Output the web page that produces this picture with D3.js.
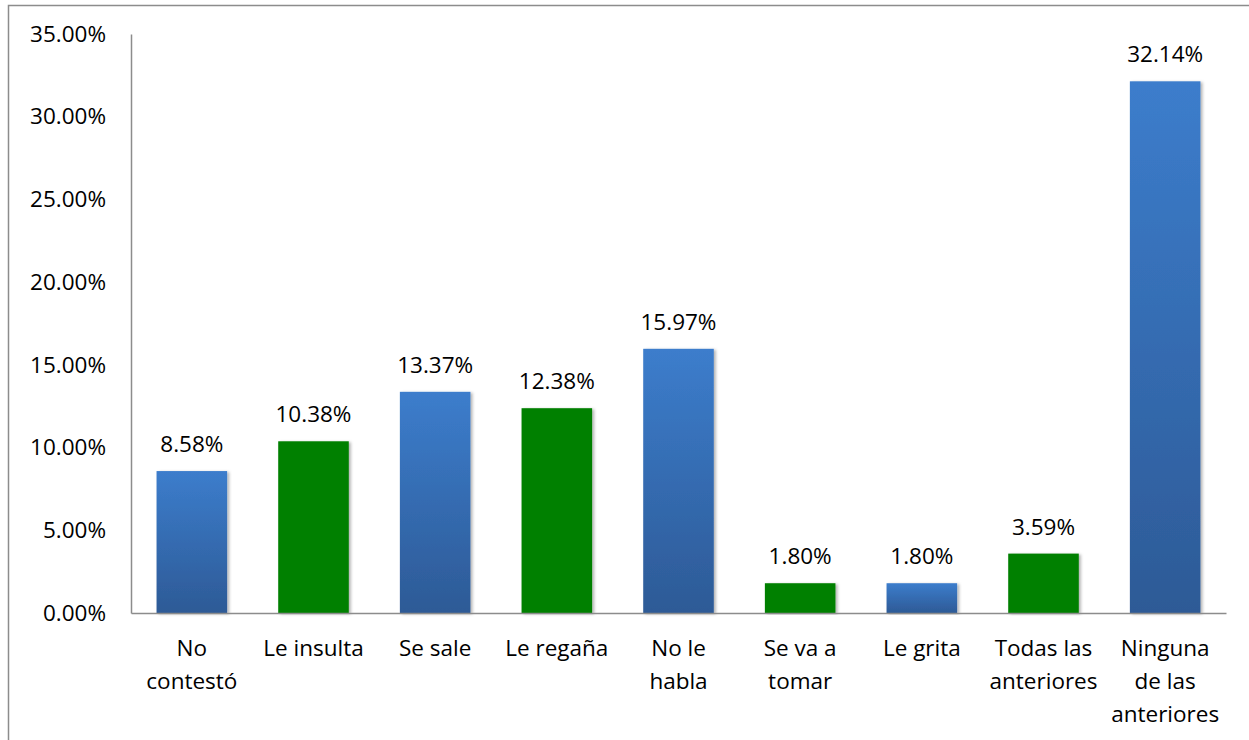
<!DOCTYPE html>
<html>
<head>
<meta charset="utf-8">
<script src="https://cdn.jsdelivr.net/npm/d3@7"></script>
<style>
  body { margin: 0; background: #fff; }
  svg { display: block; font-family: "Open Sans", Lato, sans-serif; }
</style>
</head>
<body>
<svg id="vis" width="1249" height="740"></svg>
<script>
// data
const categories = ["No\ncontestó", "Le insulta", "Se sale", "Le regaña", "No le\nhabla",
                    "Se va a\ntomar", "Le grita", "Todas las\nanteriores", "Ninguna\nde las\nanteriores"];
const values = [8.58, 10.38, 13.37, 12.38, 15.97, 1.80, 1.80, 3.59, 32.14];
const barColors = ["blue", "green", "blue", "green", "blue", "green", "blue", "green", "blue"];
const yTicks = [0, 5, 10, 15, 20, 25, 30, 35];

const svg = d3.select("#vis");
const width = 1249, height = 740;
const margin = {left: 131, right: 23, top: 34, bottom: 127};
const fontSize = "22.5px";

// outer chart border (runs off the right/bottom edge like the original)
svg.append("rect")
  .attr("x", 8.5).attr("y", 5.5)
  .attr("width", 1260).attr("height", 760)
  .attr("fill", "none")
  .attr("stroke", "#8c8c8c")
  .attr("stroke-width", 1.5);

const defs = svg.append("defs");
const grad = defs.append("linearGradient")
  .attr("id", "blueGrad")
  .attr("x1", 0).attr("y1", 0).attr("x2", 0).attr("y2", 1);
grad.append("stop").attr("offset", "0%").attr("stop-color", "#3c7dcc");
grad.append("stop").attr("offset", "100%").attr("stop-color", "#2d5a96");

const shadow = defs.append("filter").attr("id", "shadow")
  .attr("x", "-20%").attr("y", "-5%").attr("width", "140%").attr("height", "110%");
shadow.append("feDropShadow")
  .attr("dx", 2).attr("dy", 1).attr("stdDeviation", 1.5)
  .attr("flood-color", "#000").attr("flood-opacity", 0.3);

const x = d3.scaleBand()
  .domain(categories)
  .range([margin.left, width - margin.right])
  .paddingInner(0.42)
  .paddingOuter(0.21);

const y = d3.scaleLinear()
  .domain([0, 35])
  .range([height - margin.bottom, margin.top]);

const g = svg.append("g").attr("id", "bar-chart");

// bars
g.selectAll("rect.bar")
  .data(values)
  .join("rect")
  .attr("class", "bar")
  .attr("x", (d, i) => x(categories[i]))
  .attr("y", d => y(d))
  .attr("width", x.bandwidth())
  .attr("height", d => y(0) - y(d))
  .attr("fill", (d, i) => barColors[i] === "blue" ? "url(#blueGrad)" : "#008000")
  .attr("filter", "url(#shadow)");

// value labels
g.selectAll("text.val")
  .data(values)
  .join("text")
  .attr("class", "val")
  .attr("x", (d, i) => x(categories[i]) + x.bandwidth() / 2)
  .attr("y", d => y(d) - 19)
  .attr("text-anchor", "middle")
  .style("font-size", fontSize)
  .style("fill", "#000")
  .text(d => d.toFixed(2) + "%");

// y axis
const yAxis = g.append("g")
  .attr("id", "y-axis")
  .attr("transform", `translate(${margin.left}, 0)`)
  .call(d3.axisLeft(y).tickValues(yTicks).tickSize(0).tickPadding(25)
        .tickFormat(d => d.toFixed(2) + "%"));
yAxis.select(".domain").attr("stroke", "#8c8c8c").attr("stroke-width", 1.5);
yAxis.selectAll("text").style("font-size", fontSize).style("fill", "#000")
  .style("font-family", "'Open Sans', sans-serif");

// x axis
const xAxis = g.append("g")
  .attr("id", "x-axis")
  .attr("transform", `translate(0, ${height - margin.bottom})`)
  .call(d3.axisBottom(x).tickSize(0).tickFormat(""));
xAxis.select(".domain").attr("stroke", "#8c8c8c").attr("stroke-width", 1.5);

xAxis.selectAll(".tick").each(function(d) {
  const t = d3.select(this).append("text")
    .attr("text-anchor", "middle")
    .style("font-size", fontSize)
    .style("fill", "#000")
    .style("font-family", "'Open Sans', sans-serif");
  d.split("\n").forEach((line, k) => {
    t.append("tspan").attr("x", 0).attr("y", 43 + k * 33).text(line);
  });
});
</script>
</body>
</html>
